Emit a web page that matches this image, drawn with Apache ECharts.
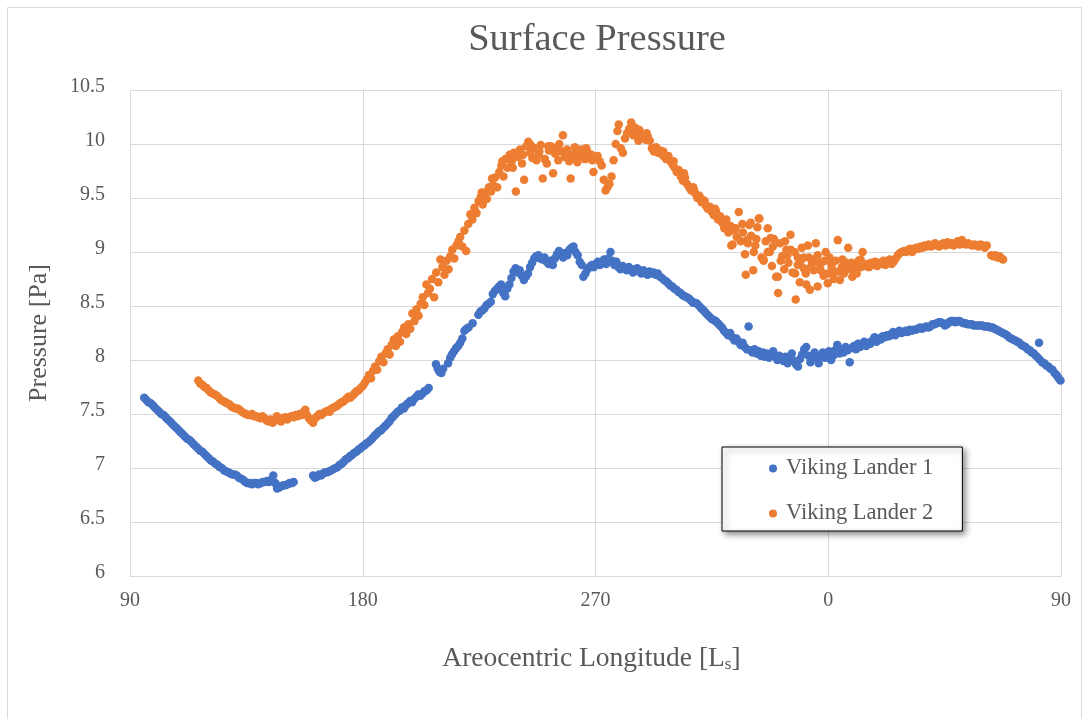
<!DOCTYPE html>
<html>
<head>
<meta charset="utf-8">
<title>Surface Pressure</title>
<script src="https://cdn.jsdelivr.net/npm/echarts@6/dist/echarts.min.js"></script>
<style>
  html, body { margin: 0; padding: 0; background: #ffffff; }
  #chart { width: 1088px; height: 719px; }
</style>
</head>
<body>
<div id="chart"></div>
<script>
// Axis setup: areocentric longitude runs one full Mars year, starting at Ls 90
const xTicks = [90, 180, 270, 360, 450];
const yTicks = [6, 6.5, 7, 7.5, 8, 8.5, 9, 9.5, 10, 10.5];
const seriesNames = ['Viking Lander 1', 'Viking Lander 2'];

// Viking Lander 1 daily mean pressure: [Ls (continued past 360), pressure]
const lander1 = [
  [95.5,7.65],[96.3,7.63],[97.1,7.61],[98,7.60],[98.8,7.58],[99.6,7.56],[100.5,7.54],[101.3,7.52],[102.1,7.50],[103,7.49],
  [103.8,7.47],[104.6,7.45],[105.5,7.43],[106.3,7.41],[107.1,7.39],[108,7.37],[108.8,7.35],[109.6,7.33],[110.5,7.31],[111.3,7.29],
  [112.1,7.27],[113,7.26],[113.8,7.24],[114.6,7.22],[115.5,7.20],[116.3,7.18],[117.1,7.16],[118,7.15],[118.8,7.13],[119.6,7.11],
  [120.5,7.09],[121.3,7.07],[122.1,7.06],[123,7.04],[123.8,7.03],[124.6,7.01],[125.5,7.00],[126.3,6.98],[127.1,6.97],[128,6.96],
  [128.8,6.95],[129.6,6.94],[130.5,6.94],[131.3,6.93],[132.1,6.91],[133,6.90],[133.8,6.89],[134.6,6.87],[135.5,6.86],[136.3,6.86],
  [137.1,6.85],[138,6.86],[138.8,6.86],[139.6,6.85],[140.5,6.86],[141.3,6.87],[142.1,6.87],[143,6.88],[143.8,6.87],[144.6,6.89],
  [145.4,6.93],[146.2,6.86],[146.9,6.81],[147.7,6.82],[148.5,6.83],[149.3,6.84],[150.1,6.84],[150.9,6.85],[151.7,6.86],[152.5,6.86],
  [153.3,6.87],
  [160.8,6.93],[161.5,6.91],[162.3,6.92],[163.1,6.94],[163.9,6.93],[164.7,6.95],[165.5,6.96],[166.3,6.96],[167.1,6.97],[167.9,6.98],
  [168.7,6.99],[169.5,7.00],[170.3,7.01],[171.1,7.03],[171.9,7.04],[172.7,7.06],[173.5,7.08],[174.3,7.09],[175.1,7.11],[175.9,7.12],
  [176.7,7.14],[177.5,7.15],[178.3,7.17],[179.1,7.18],[179.9,7.20],[180.7,7.21],[181.5,7.23],[182.3,7.24],[183.1,7.26],[183.9,7.28],
  [184.7,7.30],[185.5,7.32],[186.3,7.34],[187.1,7.35],[187.9,7.37],[188.7,7.39],[189.5,7.41],[190.3,7.43],[191.1,7.46],[191.9,7.48],
  [192.7,7.50],[193.5,7.52],[194.3,7.53],[195.1,7.56],[195.9,7.55],[196.7,7.58],[197.5,7.60],[198.3,7.62],[199.1,7.61],[199.9,7.64],
  [200.7,7.66],[201.5,7.68],[202.3,7.67],[203.1,7.69],[203.9,7.71],[204.7,7.72],[205.5,7.74],
  [208.3,7.96],[209,7.92],[209.7,7.89],[210.4,7.88],[211.1,7.92],[213,7.97],[213.8,8.02],[214.5,8.05],[215.3,8.08],[216.1,8.11],
  [216.9,8.13],[217.7,8.16],[218.5,8.20],[219.3,8.27],[220.1,8.29],[220.9,8.30],[222.5,8.34],[224.7,8.42],[225.5,8.45],[226.3,8.46],
  [227.1,8.48],[227.9,8.51],[228.7,8.52],[229.5,8.54],[230.3,8.61],[231.1,8.64],[231.9,8.66],[232.7,8.68],[233.5,8.70],[234.3,8.62],
  [235.1,8.59],[235.9,8.66],[236.7,8.70],[237.5,8.76],[238.3,8.82],[239.1,8.85],[239.9,8.81],[240.7,8.83],[241.5,8.78],[242.3,8.74],
  [243.1,8.77],[243.9,8.80],[244.7,8.86],[245.5,8.90],[246.3,8.94],[247.1,8.96],[247.9,8.97],[248.7,8.94],[249.5,8.93],[250.3,8.95],
  [251.1,8.91],[251.9,8.89],[252.7,8.92],[253.5,8.88],[254.3,8.94],[255.1,8.98],[255.9,9.01],[256.7,8.98],[257.5,8.95],[258.3,8.99],
  [259.1,8.97],[259.9,9.02],[260.7,9.04],[261.5,9.05],[262.3,9.00],[263.1,8.97],[263.9,8.91],[264.7,8.88],[265.3,8.77],[266.1,8.80],
  [266.9,8.84],[267.7,8.86],[268.5,8.88],[269.3,8.86],[270.1,8.89],[270.9,8.91],[271.7,8.88],[272.5,8.90],[273.3,8.93],[274.1,8.89],
  [274.9,8.94],[275.8,9.00],[276.5,8.92],[277.3,8.88],[278.1,8.91],[278.9,8.86],[279.7,8.84],[280.5,8.87],[281.3,8.85],[282.1,8.83],
  [282.9,8.86],[283.7,8.84],[284.5,8.81],[285.3,8.84],[286.1,8.85],[286.9,8.82],[287.7,8.80],[288.5,8.83],[289.3,8.81],[290.1,8.79],
  [290.9,8.82],[291.7,8.80],[292.5,8.81],[293.3,8.79],[294.1,8.80],[294.9,8.77],[295.7,8.76],[296.5,8.74],[297.3,8.73],[298.1,8.71],
  [298.9,8.69],[299.7,8.68],[300.5,8.66],[301.3,8.65],[302.1,8.63],[302.9,8.62],[303.7,8.60],[304.5,8.59],[305.3,8.58],[306.1,8.57],
  [306.9,8.55],[307.7,8.53],[308.5,8.53],[309.3,8.52],[310.1,8.50],[310.9,8.48],[311.7,8.46],[312.5,8.44],[313.3,8.42],[314.1,8.40],
  [314.9,8.38],[315.7,8.37],[316.5,8.36],[317.3,8.34],[318.1,8.32],[318.9,8.30],[319.7,8.27],[320.5,8.25],[321.3,8.23],[322.1,8.25],
  [322.9,8.21],[323.7,8.18],[324.5,8.20],[325.3,8.17],[326.1,8.14],[326.9,8.16],[327.7,8.12],[328.5,8.10],[329.2,8.31],[329.9,8.09],
  [330.7,8.07],[331.5,8.10],[332.3,8.06],[333.1,8.08],[333.9,8.04],[334.7,8.07],[335.5,8.03],[336.3,8.06],[337.1,8.02],[337.9,8.05],
  [338.7,8.08],[339.5,8.03],[340.3,8.00],[341.1,8.04],[341.9,8.01],[342.7,7.99],[343.5,8.03],[344.3,7.97],[345.1,8.02],[345.9,8.06],
  [346.7,7.99],[347.5,7.96],[348.3,7.94],[349.1,8.01],[349.9,8.05],[350.7,8.10],[351.5,8.12],[352.3,8.04],[353.1,7.98],[353.9,8.03],
  [354.7,8.07],[355.5,8.02],[356.3,7.97],[357.1,8.04],[357.9,8.07],[358.7,8.02],[359.5,8.05],[360.3,8.08],[361.1,8.00],[361.9,8.04],
  [362.7,8.09],[363.5,8.14],[364.3,8.06],[365.1,8.10],[365.9,8.07],[366.7,8.12],[367.5,8.09],[368.3,7.98],[369.1,8.11],[369.9,8.13],
  [370.7,8.10],[371.5,8.15],[372.3,8.12],[373.1,8.14],[373.9,8.17],[374.7,8.13],[375.5,8.16],[376.3,8.15],[377.1,8.18],[377.9,8.21],
  [378.7,8.17],[379.5,8.20],[380.3,8.19],[381.1,8.22],[381.9,8.21],[382.7,8.23],[383.5,8.22],[384.3,8.24],[385.1,8.26],[385.9,8.23],
  [386.7,8.25],[387.5,8.27],[388.3,8.25],[389.1,8.26],[389.9,8.27],[390.7,8.26],[391.5,8.28],[392.3,8.27],[393.1,8.28],[393.9,8.28],
  [394.7,8.29],[395.5,8.30],[396.3,8.29],[397.1,8.30],[397.9,8.31],[398.7,8.30],[399.5,8.31],[400.3,8.33],[401.1,8.33],[401.9,8.34],
  [402.7,8.35],[403.5,8.35],[404.3,8.34],[405.1,8.32],[405.9,8.33],[406.7,8.35],[407.5,8.36],[408.3,8.36],[409.1,8.35],[409.9,8.36],
  [410.7,8.36],[411.5,8.35],[412.3,8.34],[413.1,8.34],[413.9,8.33],[414.7,8.33],[415.5,8.33],[416.3,8.32],[417.1,8.32],[417.9,8.32],
  [418.7,8.32],[419.5,8.32],[420.3,8.31],[421.1,8.31],[421.9,8.31],[422.7,8.30],[423.5,8.30],[424.3,8.29],[425.1,8.28],[425.9,8.27],
  [426.7,8.26],[427.5,8.25],[428.3,8.24],[429.1,8.23],[429.9,8.21],[430.7,8.20],[431.5,8.19],[432.3,8.18],[433.1,8.17],[433.9,8.16],
  [434.7,8.14],[435.5,8.13],[436.3,8.12],[437.1,8.10],[437.9,8.09],[438.7,8.07],[439.5,8.06],[440.3,8.04],[441.1,8.02],[441.5,8.16],
  [441.9,8.00],[442.7,7.98],[443.5,7.97],[444.3,7.95],[445.1,7.94],[445.9,7.92],[446.7,7.91],[447.5,7.88],[448.3,7.86],[449.1,7.83],
  [449.8,7.81]
];

// Viking Lander 2 daily mean pressure: [Ls (continued past 360), pressure]
const lander2 = [
  [116.4,7.81],[117.2,7.78],[118,7.77],[118.8,7.75],[119.6,7.74],[120.4,7.72],[121.2,7.70],[122,7.69],[122.8,7.68],[123.6,7.67],
  [124.4,7.65],[125.2,7.63],[126,7.62],[126.8,7.61],[127.6,7.60],[128.4,7.59],[129.2,7.57],[130,7.56],[130.8,7.55],[131.6,7.55],
  [132.4,7.54],[133.2,7.52],[134,7.51],[134.8,7.50],[135.6,7.49],[136.4,7.49],[137.2,7.50],[138,7.48],[138.8,7.48],[139.6,7.47],
  [140.4,7.46],[141.2,7.48],[142,7.46],[142.8,7.44],[143.6,7.43],[144.4,7.45],[145.2,7.42],[146,7.44],[146.8,7.48],[147.6,7.45],
  [148.4,7.43],[149.2,7.46],[150,7.47],[150.8,7.45],[151.6,7.47],[152.4,7.48],[153.2,7.47],[154,7.49],[154.8,7.48],[155.6,7.50],
  [156.4,7.49],[157.2,7.52],[157.8,7.54],[158.4,7.49],[159.2,7.46],[160,7.44],[160.8,7.42],[161.6,7.46],[162.4,7.48],[163.2,7.50],
  [164,7.49],[164.8,7.51],[165.6,7.52],[166.4,7.53],[167.2,7.52],[168,7.55],[168.8,7.56],[169.6,7.57],[170.4,7.58],[171.2,7.60],
  [172,7.61],[172.8,7.62],[173.6,7.64],[174.4,7.66],[175.2,7.65],[176,7.67],[176.8,7.69],[177.6,7.71],[178.4,7.72],[179.2,7.74],
  [180,7.76],[180.8,7.79],[181.6,7.82],[182.4,7.86],[183.2,7.83],[184,7.90],[184.8,7.94],[185.6,7.91],[186.4,7.99],[187.2,8.03],
  [188,7.98],[188.8,8.06],[189.6,8.10],[190.4,8.05],[191.2,8.14],[192,8.19],[192.8,8.13],[193.6,8.22],[194.4,8.17],[195.2,8.26],
  [196,8.30],[196.8,8.24],[197.6,8.33],[198.4,8.29],[199.2,8.43],[200,8.36],[200.8,8.47],[201.6,8.41],[202.4,8.52],[203.2,8.58],
  [203.8,8.51],[204.6,8.70],[205.2,8.62],[206,8.66],[206.8,8.75],[207.6,8.58],[208.4,8.81],[209.2,8.72],[210,8.93],[210.8,8.86],
  [211.6,8.79],[212.4,8.92],[213.2,8.84],[213.9,8.96],[214.6,9.02],[215.4,8.94],[216.2,9.06],[217,9.10],[217.7,9.14],[218.5,9.05],
  [219.3,9.20],[220,9.01],[220.8,9.26],[221.6,9.35],[222.4,9.30],[223.2,9.41],[224,9.36],[224.8,9.47],[225.6,9.51],[226.4,9.44],
  [227.2,9.55],[228,9.49],[228.8,9.60],[229.6,9.56],[230.4,9.62],[231.2,9.69],[232,9.60],[232.8,9.74],[233.6,9.80],[234.4,9.70],
  [235.2,9.86],[236,9.78],[236.8,9.90],[237.6,9.84],[238.4,9.92],[239.2,9.56],[240,9.88],[240.8,9.95],[241.6,9.82],[242.4,9.67],
  [243.2,9.98],[244,10.02],[244.8,9.92],[245.6,9.87],[246.4,9.96],[247.2,9.85],[248,9.90],[248.8,9.99],[249.6,9.68],[250.4,9.86],
  [251.2,9.82],[252,9.94],[252.8,9.98],[253.6,9.73],[254.4,9.91],[255.2,9.97],[256,10.00],[256.8,9.93],[257.4,10.08],[258.2,9.88],
  [259,9.95],[259.8,9.84],[260.4,9.68],[261.2,9.90],[262,9.97],[262.8,9.86],[263.6,9.92],[264.4,9.95],[265.2,9.89],[266,9.86],
  [266.8,9.93],[267.6,9.88],[268.4,9.90],[269.2,9.74],[270,9.87],[270.8,9.89],[271.6,9.84],[272.4,9.80],[273.2,9.67],[273.9,9.57],
  [274.6,9.60],[275.4,9.63],[276.2,9.70],[277,9.85],[277.8,10.00],[278.5,10.12],[279,10.18],[279.8,9.96],[280.6,9.92],[281.4,10.05],
  [282.2,10.10],[283,10.14],[283.8,10.20],[284.6,10.08],[285.4,10.15],[286.2,10.10],[287,10.13],[287.8,10.06],[288.6,10.09],[289.4,10.04],
  [290.2,10.07],[291,10.03],[291.8,9.96],[292.6,9.93],[293.4,9.97],[294.2,9.92],[295,9.94],[295.8,9.90],[296.6,9.88],[297.4,9.86],
  [298.2,9.89],[299,9.84],[299.8,9.81],[300.6,9.78],[301.4,9.74],[302.2,9.76],[303,9.70],[303.8,9.66],[304.6,9.69],[305.4,9.63],
  [306.2,9.60],[307,9.57],[307.8,9.60],[308.6,9.54],[309.4,9.50],[310.2,9.52],[311,9.46],[311.8,9.48],[312.6,9.43],[313.4,9.40],
  [314.2,9.42],[315,9.37],[315.8,9.34],[316.6,9.38],[317.4,9.30],[318.2,9.33],[319,9.27],[319.8,9.22],[320.6,9.30],[321.4,9.18],
  [322.2,9.24],[323,9.07],[323.8,9.20],[324.6,9.14],[325.4,9.37],[326.2,9.10],[327,9.18],[327.8,8.98],[328.6,9.11],[329.4,9.25],
  [330.2,9.15],[331,8.83],[331.8,9.06],[332.6,9.23],[333.4,9.31],[334.2,8.95],[335,8.92],[335.8,9.10],[336.6,9.22],[337.4,9.00],
  [338.2,8.87],[339,9.12],[339.8,8.77],[340.6,8.62],[341.4,9.08],[342.2,8.96],[343,8.84],[343.8,9.02],[344.6,8.90],[345.4,9.16],
  [346.2,8.81],[347,9.00],[347.4,8.56],[348.2,8.88],[349,8.72],[349.8,9.04],[350.5,8.95],[351.3,8.80],[352.1,9.06],[352.9,8.65],
  [353.7,8.90],[354.5,8.93],[355.2,9.08],[355.9,8.68],[356.7,8.84],[357.4,8.90],[358.2,8.78],[359,9.00],[359.8,8.71],[360.5,8.95],
  [361.3,8.86],[362.1,8.81],[362.9,8.92],[363.7,9.11],[364.5,8.74],[365.3,8.86],[366.1,8.80],[366.9,8.90],[367.7,9.04],[368.5,8.84],
  [369.3,8.77],[370.1,8.88],[370.9,8.83],[371.7,8.92],[372.5,8.86],[373.3,9.00],[374.1,8.87],[374.9,8.89],[375.7,8.86],[376.5,8.90],
  [377.3,8.88],[378.1,8.91],[378.9,8.87],[379.7,8.90],[380.5,8.89],[381.3,8.92],[382.1,8.88],[382.9,8.90],[383.7,8.93],[384.5,8.89],
  [385.3,8.91],[386.1,8.94],[386.9,8.97],[387.7,8.99],[388.5,9.00],[389.3,9.01],[390.1,9.00],[390.9,9.02],[391.7,9.03],[392.5,9.00],
  [393.3,9.03],[394.1,9.04],[394.9,9.03],[395.7,9.05],[396.5,9.04],[397.3,9.06],[398.1,9.05],[398.9,9.07],[399.7,9.05],[400.5,9.06],
  [401.3,9.08],[402.1,9.06],[402.9,9.05],[403.7,9.07],[404.5,9.08],[405.3,9.06],[406.1,9.09],[406.9,9.07],[407.7,9.08],[408.5,9.06],
  [409.3,9.08],[410.1,9.10],[410.9,9.07],[411.7,9.11],[412.5,9.08],[413.3,9.07],[414.1,9.08],[414.9,9.07],[415.7,9.06],[416.5,9.07],
  [417.3,9.06],[418.1,9.05],[418.9,9.07],[419.7,9.06],[420.5,9.04],[421.3,9.06],[423,8.97],[423.8,8.96],[424.6,8.97],[425.4,8.95],
  [426.2,8.96],[427,8.94],[427.6,8.93],
  [322.5,9.06],[326.8,9.26],[328.1,8.79],[330,9.27],[331.2,9.00],[333.1,9.31],[335,8.93],[336.6,9.00],[337.7,9.13],[340.5,8.77],
  [341.6,8.92],[343.3,9.10],[345.5,9.02],[347.2,8.80],[348.2,8.95],[350.5,8.85],[351.5,8.70],[352.5,8.95],[354.4,8.83],[355.9,8.97],
  [357.1,8.83],[358.6,8.92],[359.8,8.80],[361,8.90],[362.1,8.75],[364,8.82],[365.5,8.93],[367.5,8.85],[369,8.90],[371,8.80],
  [372.5,8.93],
  [226,9.55],[230,9.68],[234,9.84],[238,9.78],[242,9.90],[245,9.99],[248.3,9.93],[251.7,9.98],[255.6,9.85],[258.6,9.91],
  [263,9.83],[266.4,9.96],[268.8,9.85],[286.6,10.03],[289.8,10.10],[296.2,9.93],[300.2,9.84],[304.2,9.73],[308.2,9.57],[312.2,9.47],
  [316.2,9.40],[320.2,9.26],[324.2,9.22],[328.9,9.08],[332.2,9.12],[338.6,9.05],[344.2,8.97],[349.4,8.92],[353.2,8.86],[356.2,8.90]
];

const FONT = "'Liberation Serif', 'DejaVu Serif', serif";
const TEXT = '#595959';
const GRID = '#d9d9d9';

const chart = echarts.init(document.getElementById('chart'), null, { renderer: 'canvas' });

chart.setOption({
  animation: false,
  backgroundColor: '#ffffff',
  textStyle: { fontFamily: FONT },
  title: {
    text: 'Surface Pressure',
    left: 592,
    textAlign: 'center',
    top: 15,
    textStyle: { fontFamily: FONT, fontSize: 38.5, fontWeight: 'normal', color: TEXT }
  },
  graphic: [{
    type: 'rect',
    silent: true,
    shape: { x: 7.5, y: 7.5, width: 1074, height: 720 },
    style: { fill: 'none', stroke: GRID, lineWidth: 1 },
    z: -1
  }],
  grid: { left: 130, right: 27, top: 90, bottom: 143, containLabel: false },
  xAxis: {
    type: 'value',
    min: xTicks[0],
    max: xTicks[xTicks.length - 1],
    interval: 90,
    name: 'Areocentric Longitude [L{sub|s}]',
    nameLocation: 'middle',
    nameGap: 68,
    nameTextStyle: {
      fontFamily: FONT, fontSize: 27.5, color: TEXT,
      padding: [0, 8, 0, 0],
      rich: { sub: { fontFamily: FONT, fontSize: 17, color: TEXT, padding: [12, 0, 0, 0] } }
    },
    axisLine: { show: true, lineStyle: { color: GRID, width: 1 } },
    axisTick: { show: false },
    axisLabel: {
      margin: 15, fontFamily: FONT, fontSize: 20, color: TEXT,
      formatter: v => String(v % 360)
    },
    splitLine: { show: true, lineStyle: { color: GRID, width: 1 } }
  },
  yAxis: {
    type: 'value',
    min: yTicks[0],
    max: yTicks[yTicks.length - 1],
    interval: 0.5,
    name: 'Pressure [Pa]',
    nameLocation: 'middle',
    nameRotate: 90,
    nameGap: 78,
    nameTextStyle: { fontFamily: FONT, fontSize: 26, color: TEXT },
    axisLine: { show: false },
    axisTick: { show: false },
    axisLabel: {
      margin: 25, fontFamily: FONT, fontSize: 20, color: TEXT,
      verticalAlign: 'bottom',
      lineHeight: 7,
      formatter: v => String(v)
    },
    splitLine: { show: true, lineStyle: { color: GRID, width: 1 } }
  },
  legend: {
    orient: 'vertical',
    left: 722,
    top: 447,
    padding: [10, 29, 6, 47],
    itemGap: 22,
    itemWidth: 16,
    itemHeight: 8,
    icon: 'circle',
    backgroundColor: '#ffffff',
    borderColor: '#000000',
    borderWidth: 1,
    shadowBlur: 6,
    shadowColor: 'rgba(0,0,0,0.45)',
    shadowOffsetX: 3,
    shadowOffsetY: 3,
    textStyle: { fontFamily: FONT, fontSize: 22.5, color: TEXT },
    data: seriesNames
  },
  series: [
    {
      name: seriesNames[0],
      type: 'scatter',
      data: lander1,
      symbol: 'circle',
      symbolSize: 8.5,
      itemStyle: { color: '#4472C4', opacity: 1 }
    },
    {
      name: seriesNames[1],
      type: 'scatter',
      data: lander2,
      symbol: 'circle',
      symbolSize: 8.5,
      itemStyle: { color: '#ED7D31', opacity: 1 }
    }
  ]
});
</script>
</body>
</html>
